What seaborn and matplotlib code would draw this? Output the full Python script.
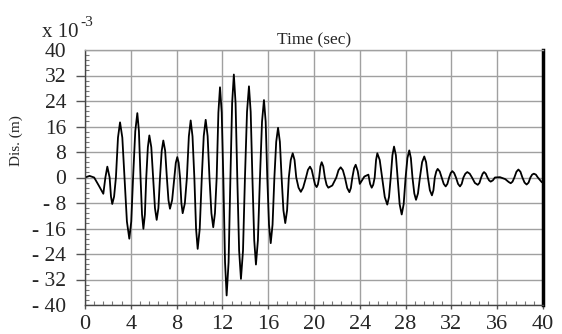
import matplotlib
matplotlib.use("Agg")
import matplotlib.pyplot as plt
import seaborn as sns
import numpy as np
import pandas as pd
from matplotlib.ticker import MultipleLocator, FixedLocator, FixedFormatter

# ---- data (time in s, displacement in 1e-3 m) ----
time_s = [0.0, 0.4, 0.8, 1.2, 1.6, 1.78, 1.95, 2.15, 2.27, 2.38, 2.54, 2.7,
          2.88, 3.06, 3.26, 3.45, 3.66, 3.87, 4.04, 4.2, 4.39, 4.57, 4.71, 4.85,
          4.98, 5.1, 5.23, 5.35, 5.49, 5.62, 5.79, 5.95, 6.11, 6.26, 6.41, 6.55,
          6.7, 6.84, 7.0, 7.15, 7.29, 7.42, 7.61, 7.8, 7.93, 8.06, 8.18, 8.3,
          8.42, 8.53, 8.72, 8.9, 9.07, 9.23, 9.39, 9.55, 9.7, 9.84, 10.02, 10.2,
          10.37, 10.54, 10.71, 10.87, 11.04, 11.2, 11.35, 11.5, 11.65, 11.79, 11.94, 12.08,
          12.23, 12.37, 12.54, 12.7, 12.85, 13.0, 13.15, 13.3, 13.46, 13.62, 13.8, 13.97,
          14.15, 14.32, 14.47, 14.62, 14.78, 14.93, 15.1, 15.28, 15.46, 15.63, 15.78, 15.92,
          16.07, 16.22, 16.38, 16.54, 16.7, 16.86, 17.02, 17.17, 17.33, 17.49, 17.65, 17.8,
          17.97, 18.14, 18.3, 18.45, 18.65, 18.85, 19.05, 19.3, 19.47, 19.65, 19.8, 19.95,
          20.09, 20.23, 20.34, 20.45, 20.56, 20.67, 20.81, 20.95, 21.1, 21.25, 21.6, 21.95,
          22.14, 22.33, 22.52, 22.7, 22.9, 23.09, 23.22, 23.35, 23.5, 23.64, 23.82, 24.0,
          24.4, 24.75, 24.9, 25.04, 25.17, 25.3, 25.42, 25.53, 25.74, 25.95,
          26.18, 26.4, 26.55, 26.7, 26.85, 26.99, 27.15, 27.3, 27.48, 27.66, 27.83, 28.0,
          28.16, 28.32, 28.46, 28.6, 28.76, 28.91, 29.08, 29.25, 29.44, 29.63, 29.79, 29.95,
          30.12, 30.3, 30.43, 30.55, 30.68, 30.8, 30.98, 31.15, 31.33, 31.5, 31.65, 31.8,
          31.94, 32.08, 32.24, 32.4, 32.58, 32.75, 32.9, 33.05, 33.22, 33.39, 33.6, 33.8,
          34.05, 34.3, 34.45, 34.6, 34.73, 34.85, 35.0, 35.15, 35.29, 35.43, 35.62, 35.8,
          36.24, 36.7, 37.0, 37.18, 37.34, 37.5, 37.68, 37.85, 38.03, 38.2, 38.39, 38.57,
          38.74, 38.9, 39.05, 39.2, 39.38, 39.55, 39.9, 40.0]
disp_e3 = [0.0, 0.5, 0.0, -2.5, -5.1, 0.0, 3.4, 0.0, -6.0, -8.3, -6.0, 0.0,
           12.5, 17.3, 12.5, 0.0, -13.8, -19.2, -13.8, 0.0, 14.5, 20.2, 14.5, 0.0,
           -11.6, -16.1, -11.6, 0.0, 9.5, 13.2, 9.5, 0.0, -9.6, -13.3, -9.6, 0.0,
           8.4, 11.6, 8.4, 0.0, -7.1, -9.8, -7.1, 0.0, 4.6, 6.4, 4.6, 0.0,
           -8.1, -11.2, -8.1, 0.0, 12.9, 17.9, 12.9, 0.0, -16.1, -22.4, -16.1, 0.0,
           13.0, 18.1, 13.0, 0.0, -11.2, -15.6, -11.2, 0.0, 20.4, 28.3, 20.4, 0.0,
           -26.6, -37.0, -26.6, 0.0, 23.3, 32.3, 23.3, 0.0, -22.9, -31.8, -22.9, 0.0,
           20.6, 28.6, 20.6, 0.0, -19.7, -27.3, -19.7, 0.0, 17.5, 24.3, 17.5, 0.0,
           -14.8, -20.6, -14.8, 0.0, 11.2, 15.6, 11.2, 0.0, -10.3, -14.3, -10.3, 0.0,
           5.5, 7.6, 5.5, 0.0, -3.2, -4.5, -3.2, 0.0, 2.4, 3.4, 2.4, 0.0,
           -2.2, -3.0, -2.2, 0.0, 3.5, 4.8, 3.5, 0.0, -2.3, -3.2, -2.5, 0.0,
           2.3, 3.2, 2.3, 0.0, -3.3, -4.6, -3.3, 0.0, 2.9, 4.0, 2.0, -2.0,
           0.3, 0.9, -2.0, -3.2, -2.3, 0.0, 5.5, 7.6, 5.5, 0.0,
           -6.1, -8.5, -6.1, 0.0, 7.0, 9.7, 7.0, 0.0, -8.4, -11.6, -8.4, 0.0,
           6.1, 8.5, 6.1, 0.0, -5.0, -7.0, -5.0, 0.0, 4.8, 6.6, 4.8, 0.0,
           -4.0, -5.6, -4.0, 0.0, 1.9, 2.7, 1.9, 0.0, -2.0, -2.8, -2.0, 0.0,
           1.4, 2.0, 1.4, 0.0, -2.0, -2.8, -2.0, 0.0, 1.2, 1.7, 1.2, 0.0,
           -1.7, -2.3, -1.7, 0.0, 1.2, 1.7, 1.2, 0.0, -0.9, -1.3, -0.9, 0.0,
           0.1, -0.5, -1.4, -1.8, -1.3, 0.0, 1.8, 2.5, 1.8, 0.0, -1.6, -2.2,
           -1.6, 0.0, 0.9, 1.2, 0.9, 0.0, -1.5, -1.5]

x_ticks = [0, 4, 8, 12, 16, 20, 24, 28, 32, 36, 40]
x_tick_labels = ["0", "4", "8", "12", "16", "20", "24", "28", "32", "36", "40"]
y_ticks = [-40, -32, -24, -16, -8, 0, 8, 16, 24, 32, 40]
y_tick_labels = ["- 40", "- 32", "- 24", "- 16", "- 8", "0", "8", "16", "24", "32", "40"]

df = pd.DataFrame({"t": time_s, "d": disp_e3})

sns.set_theme(style="white")
plt.rcParams["font.family"] = ["Liberation Serif", "DejaVu Serif"]

fig = plt.figure(figsize=(5.62, 3.34), dpi=100)
ax = fig.add_axes([85/562, 1-305/334, 458/562, 255/334])

sns.lineplot(data=df, x="t", y="d", ax=ax, color="black", linewidth=1.3,
             estimator=None, sort=False)

ax.set_xlim(0, 40)
ax.set_ylim(-40, 40)

ax.xaxis.set_major_locator(FixedLocator(x_ticks))
ax.xaxis.set_major_formatter(FixedFormatter(x_tick_labels))
ax.yaxis.set_major_locator(FixedLocator(y_ticks))
ax.yaxis.set_major_formatter(FixedFormatter(y_tick_labels))
ax.xaxis.set_minor_locator(MultipleLocator(0.8))
ax.yaxis.set_minor_locator(MultipleLocator(1.6))

ax.grid(True, which="major", color="#a0a0a0", linewidth=1.0)
ax.set_axisbelow(True)

ax.tick_params(axis="x", which="major", direction="out", length=3, width=1,
               color="#555555", pad=4, labelsize=16, bottom=True)
ax.tick_params(axis="y", which="major", direction="out", length=6.5, width=1,
               color="#555555", pad=7, labelsize=15.5, left=True)
ax.tick_params(which="minor", direction="in", length=2.6, width=0.8,
               color="#777777", bottom=True, left=True)
for t in (ax.yaxis.get_major_ticks()[0], ax.yaxis.get_major_ticks()[-1]):
    t.tick1line.set_visible(False)

for s in ("left", "bottom"):
    ax.spines[s].set_color("#444444")
    ax.spines[s].set_linewidth(1.0)
ax.spines["top"].set_color("#a0a0a0")
ax.spines["top"].set_linewidth(1.0)
ax.spines["right"].set_color("black")
ax.spines["right"].set_linewidth(2.5)

ax.set_xlabel("")
ax.set_ylabel("Dis. (m)", fontsize=11)
ax.yaxis.set_label_coords(-0.135, 0.643)
ax.set_title("Time (sec)", fontsize=12.5, pad=4)

fig.text(42/562, 1-37/334, "x 10", fontsize=15, va="baseline", ha="left")
fig.text(80/562, 1-26/334, "-3", fontsize=11, va="baseline", ha="left")

fig.savefig("out.png", dpi=100)
